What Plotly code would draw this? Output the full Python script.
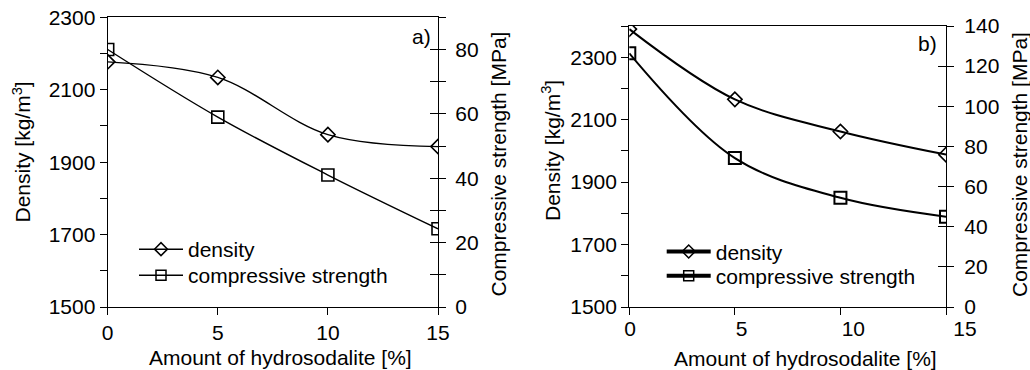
import plotly.graph_objects as go

W, H = 1030, 370

# ---- data ----
hydrosodalite = [0, 5, 10, 15]
density_a = [2177, 2134, 1976, 1943]
strength_a = [80, 59, 41, 24.3]
density_b = [2390, 2165, 2062, 1988]
strength_b = [126.4, 74.2, 54.4, 45]

x_ticks = [0, 5, 10, 15]
dens_ticks_a = [1500, 1700, 1900, 2100, 2300]
dens_ticks_b = [1500, 1700, 1900, 2100, 2300]

FONT = "Liberation Sans, Arial, sans-serif"
FS = 21

def px(x):
    return x / W

def py(y):
    return 1 - y / H

fig = go.Figure()

# panel a
fig.add_trace(go.Scatter(x=hydrosodalite, y=density_a, mode="lines+markers",
                         line=dict(color="black", width=1.4, shape="spline"),
                         marker=dict(symbol="diamond-open", size=11, color="black", line=dict(width=1.6)),
                         xaxis="x", yaxis="y", showlegend=False))
fig.add_trace(go.Scatter(x=hydrosodalite, y=strength_a, mode="lines+markers",
                         line=dict(color="black", width=1.4, shape="spline"),
                         marker=dict(symbol="square-open", size=12, color="black", line=dict(width=1.6)),
                         xaxis="x", yaxis="y2", showlegend=False))
# legend entries a
fig.add_trace(go.Scatter(x=[None], y=[None], mode="lines+markers", name="density",
                         line=dict(color="black", width=1.5),
                         marker=dict(symbol="diamond-open", size=10, color="black", line=dict(width=1.5)),
                         xaxis="x", yaxis="y", legend="legend"))
fig.add_trace(go.Scatter(x=[None], y=[None], mode="lines+markers", name="compressive strength",
                         line=dict(color="black", width=1.5),
                         marker=dict(symbol="square-open", size=10, color="black", line=dict(width=1.5)),
                         xaxis="x", yaxis="y", legend="legend2"))

# panel b
fig.add_trace(go.Scatter(x=hydrosodalite, y=density_b, mode="lines+markers",
                         line=dict(color="black", width=2, shape="spline"),
                         marker=dict(symbol="diamond-open", size=11, color="black", line=dict(width=1.6)),
                         xaxis="x2", yaxis="y4", showlegend=False))
fig.add_trace(go.Scatter(x=hydrosodalite, y=strength_b, mode="lines+markers",
                         line=dict(color="black", width=2, shape="spline"),
                         marker=dict(symbol="square-open", size=12, color="black", line=dict(width=2)),
                         xaxis="x2", yaxis="y5", showlegend=False))
fig.add_trace(go.Scatter(x=[None], y=[None], mode="lines+markers", name="density",
                         line=dict(color="black", width=4),
                         marker=dict(symbol="diamond-open", size=10, color="black", line=dict(width=1.5)),
                         xaxis="x2", yaxis="y4", legend="legend3"))
fig.add_trace(go.Scatter(x=[None], y=[None], mode="lines+markers", name="compressive strength",
                         line=dict(color="black", width=4),
                         marker=dict(symbol="square-open", size=10, color="black", line=dict(width=1.5)),
                         xaxis="x2", yaxis="y4", legend="legend4"))
# dummy traces so helper axes render
fig.add_trace(go.Scatter(x=[None], y=[None], xaxis="x", yaxis="y3", showlegend=False))
fig.add_trace(go.Scatter(x=[None], y=[None], xaxis="x2", yaxis="y6", showlegend=False))
fig.add_trace(go.Scatter(x=[None], y=[None], xaxis="x3", yaxis="y4", showlegend=False))

tickfont = dict(family=FONT, size=FS, color="black")
common = dict(showline=True, linecolor="black", linewidth=1.3, showgrid=False, zeroline=False,
              ticks="outside", ticklen=7, tickcolor="black", tickwidth=1.3, tickfont=tickfont,
              automargin=False)

ydom_a = [py(307), py(17.3)]
ydom_b = [py(307), py(26)]

def leg(x, y):
    return dict(x=px(x), y=py(y), xanchor="left", yanchor="top", bgcolor="rgba(0,0,0,0)",
                font=dict(family=FONT, size=FS, color="black"), itemwidth=44, tracegroupgap=0)

fig.update_layout(
    width=W, height=H, margin=dict(l=0, r=0, t=0, b=0, autoexpand=False),
    paper_bgcolor="white", plot_bgcolor="rgba(0,0,0,0)",
    font=dict(family=FONT, size=FS, color="black"),
    xaxis=dict(domain=[px(107.7), px(438)], anchor="y", range=[0, 15], tickvals=x_ticks,
               mirror=True, **common),
    yaxis=dict(domain=ydom_a, anchor="x", range=[1500, 2300], tickvals=dens_ticks_a,
               minor=dict(dtick=100, tick0=1500, ticks="outside", ticklen=7, tickcolor="black", tickwidth=1.3),
               **common),
    yaxis2=dict(domain=ydom_a, anchor="x", overlaying="y", side="right", range=[0, 90],
                tick0=0, dtick=20, ticklabelstandoff=5,
                minor=dict(dtick=10, tick0=0, ticks="outside", ticklen=7, tickcolor="black", tickwidth=1.3),
                **common),
    yaxis3=dict(domain=ydom_a, anchor="x", overlaying="y", side="right", range=[0, 90],
                tick0=0, dtick=10, showticklabels=False, showline=False, showgrid=False, zeroline=False,
                ticks="inside", ticklen=8, tickcolor="black", tickwidth=1.3, automargin=False),
    xaxis2=dict(domain=[px(629.3), px(946)], anchor="y4", range=[0, 15], tickvals=x_ticks,
                mirror=True, **{**common, "showticklabels": False}),
    xaxis3=dict(domain=[px(630), px(965)], anchor="y4", range=[0, 15], tickvals=x_ticks,
                showline=False, showgrid=False, zeroline=False, ticks="", ticklen=7,
                tickfont=tickfont, automargin=False, ticklabelstandoff=7),
    yaxis4=dict(domain=ydom_b, anchor="x2", range=[1500, 2400], tickvals=dens_ticks_b,
                minor=dict(dtick=100, tick0=1500, ticks="outside", ticklen=7, tickcolor="black", tickwidth=1.3),
                **common),
    yaxis5=dict(domain=ydom_b, anchor="x2", overlaying="y4", side="right", range=[0, 140],
                tick0=0, dtick=20, ticklabelstandoff=6, **common),
    yaxis6=dict(domain=ydom_b, anchor="x2", overlaying="y4", side="right", range=[0, 140],
                tick0=0, dtick=20, showticklabels=False, showline=False, showgrid=False, zeroline=False,
                ticks="inside", ticklen=8, tickcolor="black", tickwidth=1.3, automargin=False),
    legend=leg(134, 229),
    legend2=leg(134, 255),
    legend3=leg(661.7, 231.3),
    legend4=leg(661.7, 255.7),
)

ann = dict(xref="paper", yref="paper", showarrow=False, font=dict(family=FONT, size=FS, color="black"))
fig.add_annotation(text="Density [kg/m<sup>3</sup>]", x=px(21.5), y=py(152), textangle=-90,
                   xanchor="center", yanchor="middle", **ann)
fig.add_annotation(text="Compressive strength [MPa]", x=px(497.5), y=py(164), textangle=-90,
                   xanchor="center", yanchor="middle", **ann)
fig.add_annotation(text="Amount of hydrosodalite [%]", x=px(280), y=py(357),
                   xanchor="center", yanchor="middle", **ann)
fig.add_annotation(text="a)", x=px(421), y=py(37), xanchor="center", yanchor="middle", **ann)

fig.add_annotation(text="Density [kg/m<sup>3</sup>]", x=px(551), y=py(151), textangle=-90,
                   xanchor="center", yanchor="middle", **ann)
fig.add_annotation(text="Compressive strength [MPa]", x=px(1019), y=py(165), textangle=-90,
                   xanchor="center", yanchor="middle", **ann)
fig.add_annotation(text="Amount of hydrosodalite [%]", x=px(805), y=py(358),
                   xanchor="center", yanchor="middle", **ann)
fig.add_annotation(text="b)", x=px(927), y=py(43), xanchor="center", yanchor="middle", **ann)

fig.write_html("out.html", config={"displayModeBar": False},
               post_script="document.body.style.margin='0';document.body.style.overflow='hidden';")
